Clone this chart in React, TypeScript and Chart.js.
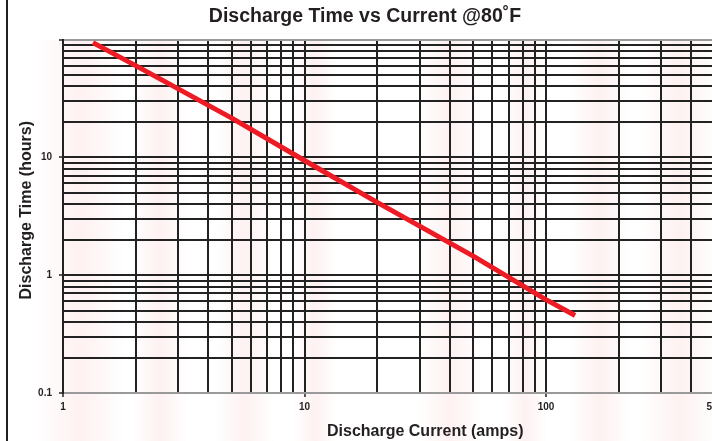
import React, { useEffect, useRef } from 'react';
import { Chart, registerables } from 'chart.js';

Chart.register(...registerables);

// ---- data ----
const CURRENT_AMPS = [1.33, 2, 5, 10, 20, 50, 100, 132];
const DISCHARGE_HOURS = [94, 60, 21.5, 9.4, 4.15, 1.45, 0.62, 0.455];

const X_TICK_LABELS = [1, 10, 100, 500];
const Y_TICK_LABELS = [0.1, 1, 10];
const X_DECADES = [1, 10, 100];
const Y_DECADES = [0.1, 1, 10];
const MULTIPLIERS = [1, 2, 3, 4, 5, 6, 7, 8, 9];
const X_MIN = 1;
const X_MAX = 1000;
const Y_MIN = 0.1;
const Y_MAX = 100;

const TITLE = 'Discharge Time vs Current @80˚F';
const X_TITLE = 'Discharge Current (amps)';
const Y_TITLE = 'Discharge Time (hours)';

const FONT = "'Liberation Sans', Arial, Helvetica, sans-serif";
const TEXT_COLOR = '#231f20';

const gridValues = (decades: number[], top: number) => {
  const out: number[] = [];
  decades.forEach((d) => MULTIPLIERS.forEach((m) => out.push(Number((d * m).toPrecision(6)))));
  out.push(top);
  return out;
};
const X_GRID = gridValues(X_DECADES, X_MAX);
const Y_GRID = gridValues(Y_DECADES, Y_MAX);

const isIn = (list: number[], v: number) => list.some((t) => Math.abs(t - v) / t < 1e-6);

const backgroundPlugin = {
  id: 'bgWatermark',
  beforeDraw(chart: any) {
    const { ctx, width, height } = chart;
    ctx.save();
    ctx.fillStyle = '#ffffff';
    ctx.fillRect(0, 0, width, height);
    const bands = [
      [80, 45], [160, 28], [245, 30], [315, 22], [450, 32], [525, 22], [600, 30], [680, 40],
    ];
    bands.forEach(([cx, w]) => {
      const g = ctx.createLinearGradient(cx - w, 0, cx + w, 0);
      g.addColorStop(0, 'rgba(235,70,70,0)');
      g.addColorStop(0.5, 'rgba(235,70,70,0.075)');
      g.addColorStop(1, 'rgba(235,70,70,0)');
      ctx.fillStyle = g;
      ctx.fillRect(cx - w, 40, 2 * w, height - 40);
    });
    ctx.restore();
  },
};

const textPlugin = {
  id: 'texts',
  afterDraw(chart: any) {
    const { ctx, chartArea } = chart;
    ctx.save();
    ctx.fillStyle = TEXT_COLOR;
    ctx.textAlign = 'center';
    ctx.textBaseline = 'alphabetic';
    ctx.font = `bold 19.5px ${FONT}`;
    ctx.fillText(TITLE, 365, 21.5);
    ctx.font = `bold 16px ${FONT}`;
    ctx.fillText(X_TITLE, (chartArea.left + chartArea.right) / 2, 436);
    ctx.translate(30.5, (chartArea.top + chartArea.bottom) / 2 - 6);
    ctx.rotate(-Math.PI / 2);
    ctx.fillText(Y_TITLE, 0, 0);
    ctx.restore();
    // outer frame (left edge visible)
    ctx.save();
    ctx.strokeStyle = TEXT_COLOR;
    ctx.lineWidth = 2;
    ctx.beginPath();
    ctx.moveTo(7, 0);
    ctx.lineTo(7, chart.height);
    ctx.stroke();
    ctx.restore();
  },
};

export default function App() {
  const ref = useRef<HTMLCanvasElement>(null);

  useEffect(() => {
    if (!ref.current) return;
    const chart = new Chart(ref.current, {
      type: 'line',
      data: {
        datasets: [
          {
            data: CURRENT_AMPS.map((x, i) => ({ x, y: DISCHARGE_HOURS[i] })),
            borderColor: '#ed1c24',
            borderWidth: 5,
            pointRadius: 0,
            tension: 0,
            fill: false,
            borderCapStyle: 'butt',
            borderJoinStyle: 'round',
          },
        ],
      },
      options: {
        responsive: false,
        animation: false,
        devicePixelRatio: 1,
        layout: { padding: { left: 0, right: 12.5, top: 39.5, bottom: 0 } },
        plugins: {
          legend: { display: false },
          tooltip: { enabled: false },
          title: { display: false },
        },
        scales: {
          x: {
            type: 'logarithmic',
            min: X_MIN,
            max: X_MAX,
            afterBuildTicks: (s: any) => {
              s.ticks = X_GRID.map((v) => ({ value: v }));
            },
            afterFit: (s: any) => {
              s.height = 48;
            },
            ticks: {
              autoSkip: false,
              maxRotation: 0,
              minRotation: 0,
              padding: 4,
              color: TEXT_COLOR,
              font: { family: FONT, size: 10, weight: 'bold' },
              callback: (v: any) => (isIn(X_TICK_LABELS, Number(v)) ? String(v) : ''),
            },
            grid: {
              color: '#222222',
              lineWidth: 2,
              tickLength: 4,
              tickWidth: 1.5,
              tickColor: (c: any) =>
                c.tick && isIn(X_TICK_LABELS, c.tick.value) ? TEXT_COLOR : 'rgba(0,0,0,0)',
            },
            border: { color: '#9a9a9a', width: 2 },
          },
          y: {
            type: 'logarithmic',
            min: Y_MIN,
            max: Y_MAX,
            afterBuildTicks: (s: any) => {
              s.ticks = Y_GRID.map((v) => ({ value: v }));
            },
            afterFit: (s: any) => {
              s.width = 63;
            },
            ticks: {
              autoSkip: false,
              padding: 7,
              color: TEXT_COLOR,
              font: { family: FONT, size: 10, weight: 'bold' },
              callback: (v: any) => (isIn(Y_TICK_LABELS, Number(v)) ? String(v) : ''),
            },
            grid: {
              color: (c: any) =>
                c.tick && (Math.abs(c.tick.value - Y_MAX) < 1e-6 || Math.abs(c.tick.value - Y_MIN) < 1e-9)
                  ? '#9a9a9a'
                  : '#222222',
              lineWidth: 2,
              tickLength: 4,
              tickWidth: 1.5,
              tickColor: (c: any) =>
                c.tick && (isIn(Y_TICK_LABELS, c.tick.value) || Math.abs(c.tick.value - Y_MAX) < 1e-6)
                  ? TEXT_COLOR
                  : 'rgba(0,0,0,0)',
            },
            border: { color: '#222222', width: 2 },
          },
        },
      } as any,
      plugins: [backgroundPlugin, textPlugin],
    });
    return () => chart.destroy();
  }, []);

  return (
    <div
      style={{
        position: 'absolute',
        left: 0,
        top: 0,
        width: 712,
        height: 441,
        overflow: 'hidden',
        background: '#fff',
      }}
    >
      <canvas ref={ref} width={800} height={441} style={{ display: 'block', width: 800, height: 441 }} />
    </div>
  );
}
